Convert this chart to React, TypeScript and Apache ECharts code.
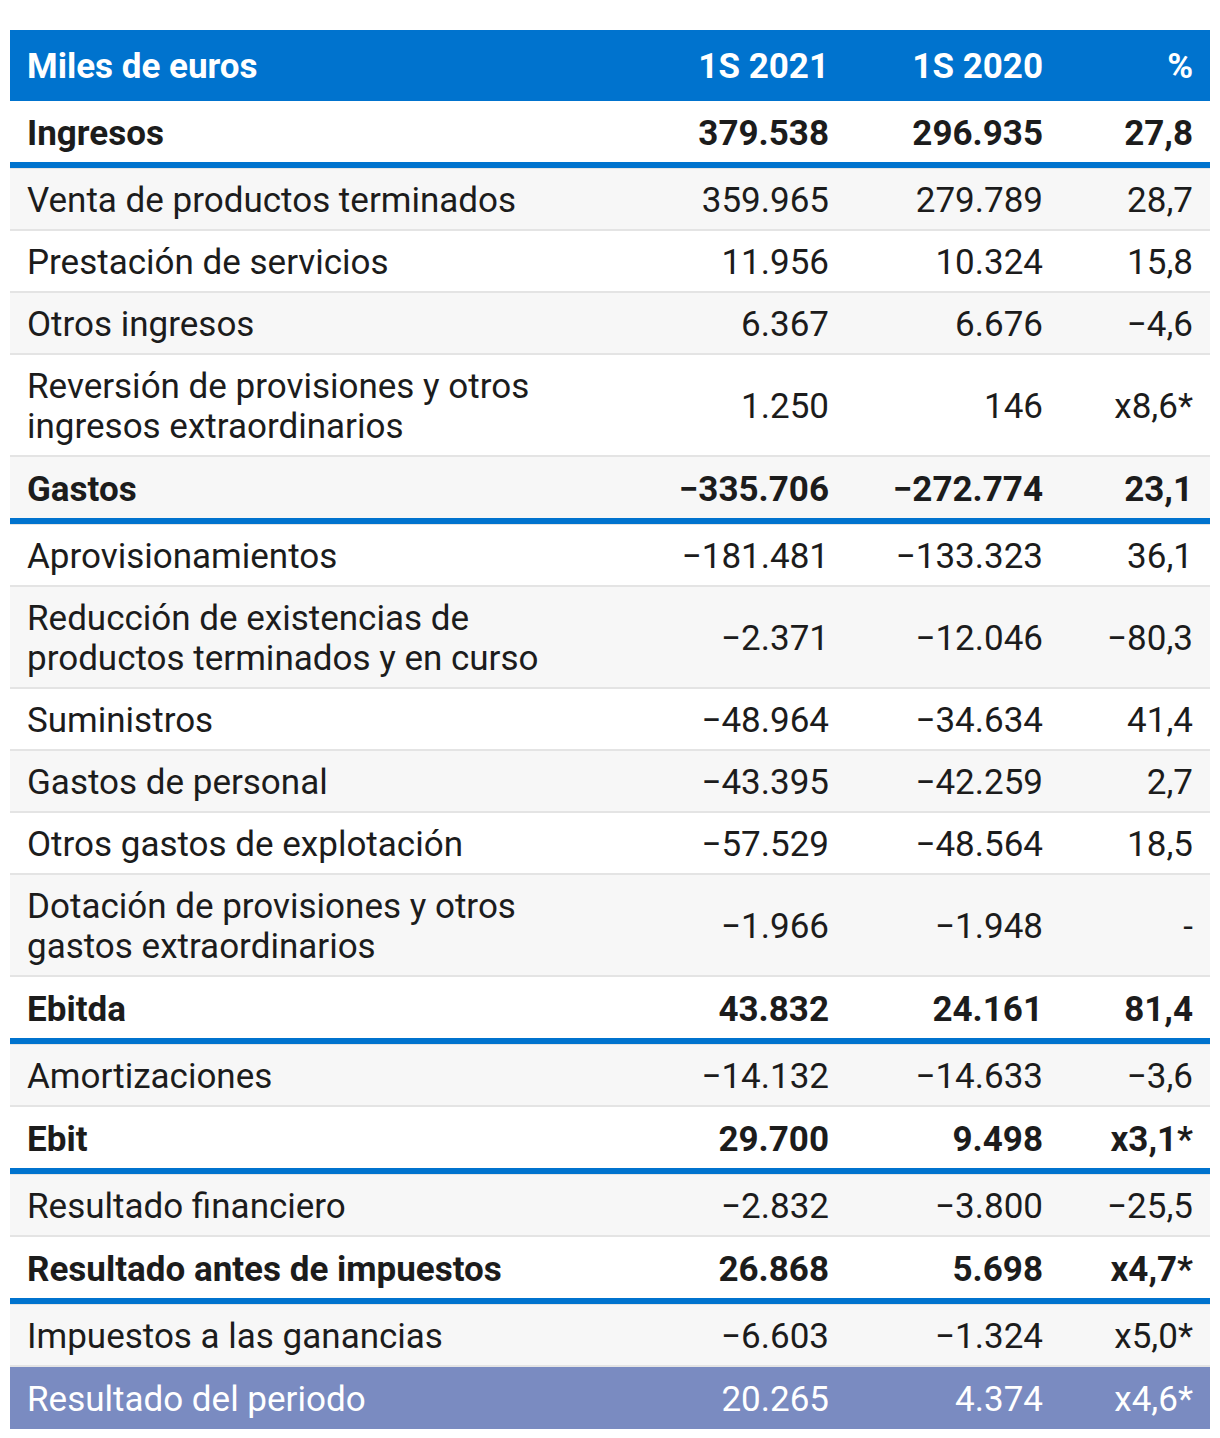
import React, { useEffect, useRef } from "react";
import * as echarts from "echarts";

const headers = ["Miles de euros", "1S 2021", "1S 2020", "%"];

const concepts = [
  "Ingresos",
  "Venta de productos terminados",
  "Prestación de servicios",
  "Otros ingresos",
  "Reversión de provisiones y otros\ningresos extraordinarios",
  "Gastos",
  "Aprovisionamientos",
  "Reducción de existencias de\nproductos terminados y en curso",
  "Suministros",
  "Gastos de personal",
  "Otros gastos de explotación",
  "Dotación de provisiones y otros\ngastos extraordinarios",
  "Ebitda",
  "Amortizaciones",
  "Ebit",
  "Resultado financiero",
  "Resultado antes de impuestos",
  "Impuestos a las ganancias",
  "Resultado del periodo",
];

const values2021 = [
  379538, 359965, 11956, 6367, 1250, -335706, -181481, -2371, -48964, -43395,
  -57529, -1966, 43832, -14132, 29700, -2832, 26868, -6603, 20265,
];

const values2020 = [
  296935, 279789, 10324, 6676, 146, -272774, -133323, -12046, -34634, -42259,
  -48564, -1948, 24161, -14633, 9498, -3800, 5698, -1324, 4374,
];

const changes: (number | string)[] = [
  27.8, 28.7, 15.8, -4.6, "x8,6*", 23.1, 36.1, -80.3, 41.4, 2.7, 18.5, "-",
  81.4, -3.6, "x3,1*", -25.5, "x4,7*", "x5,0*", "x4,6*",
];

const totalRows = ["Ingresos", "Gastos", "Ebitda", "Ebit", "Resultado antes de impuestos"];
const finalRow = "Resultado del periodo";

function fmtInt(n: number): string {
  const s = Math.abs(n).toString().replace(/\B(?=(\d{3})+(?!\d))/g, ".");
  return (n < 0 ? "\u2212" : "") + s;
}
function fmtPct(v: number | string): string {
  if (typeof v === "string") return v;
  const s = Math.abs(v).toFixed(1).replace(".", ",");
  return (v < 0 ? "\u2212" : "") + s;
}

const FONT = "Roboto";
const FS = 35;
const LEFT = 10;
const RIGHT = 1210;
const WIDTH = RIGHT - LEFT;
const HEADER_TOP = 30;
const HEADER_H = 71;
const LABEL_X = 27;
const COL_X = [829, 1043, 1193];
const BLUE = "#0073CE";
const STRIPE = "#f7f7f7";
const SEP = "#e4e4e4";
const FINAL_BG = "#7a8bc1";
const TEXT = "#1c1c1c";

export default function App() {
  const ref = useRef<HTMLDivElement>(null);

  useEffect(() => {
    if (!ref.current) return;
    const chart = echarts.init(ref.current, null, { renderer: "svg" });
    const els: any[] = [];

    // header
    els.push({
      type: "rect",
      shape: { x: LEFT, y: HEADER_TOP, width: WIDTH, height: HEADER_H },
      style: { fill: BLUE },
      silent: true,
    });
    const hy = HEADER_TOP + HEADER_H / 2 + 1;
    headers.forEach((h, i) => {
      els.push({
        type: "text",
        x: i === 0 ? LABEL_X : COL_X[i - 1],
        y: hy,
        style: {
          text: h,
          fill: "#ffffff",
          fontFamily: FONT,
          fontSize: FS,
          fontWeight: "bold",
          align: i === 0 ? "left" : "right",
          verticalAlign: "middle",
        },
        silent: true,
      });
    });

    let y = HEADER_TOP + HEADER_H;
    concepts.forEach((c, i) => {
      const isTotal = totalRows.includes(c);
      const isFinal = c === finalRow;
      const twoLines = c.includes("\n");
      const pitch = twoLines ? 102 : isTotal ? 68 : 62;
      const bgH = isTotal ? 61 : isFinal ? 62 : pitch - 2;
      const bg = isFinal ? FINAL_BG : i % 2 === 1 ? STRIPE : "#ffffff";
      els.push({
        type: "rect",
        shape: { x: LEFT, y: y, width: WIDTH, height: bgH },
        style: { fill: bg },
        silent: true,
      });
      if (isTotal) {
        els.push({
          type: "rect",
          shape: { x: LEFT, y: y + 61, width: WIDTH, height: 6 },
          style: { fill: BLUE },
          silent: true,
        });
        els.push({
          type: "rect",
          shape: { x: LEFT, y: y + 67, width: WIDTH, height: 1 },
          style: { fill: SEP },
          silent: true,
        });
      } else if (!isFinal) {
        els.push({
          type: "rect",
          shape: { x: LEFT, y: y + bgH, width: WIDTH, height: 2 },
          style: { fill: SEP },
          silent: true,
        });
      }
      const cy = y + (isTotal ? 31 : bgH / 2) + 1;
      const fill = isFinal ? "#ffffff" : TEXT;
      const weight = isTotal ? "bold" : "normal";
      const cells = [c, fmtInt(values2021[i]), fmtInt(values2020[i]), fmtPct(changes[i])];
      cells.forEach((t, j) => {
        els.push({
          type: "text",
          x: j === 0 ? LABEL_X : COL_X[j - 1],
          y: cy,
          style: {
            text: t,
            fill,
            fontFamily: FONT,
            fontSize: FS,
            fontWeight: weight,
            lineHeight: 40,
            align: j === 0 ? "left" : "right",
            verticalAlign: "middle",
          },
          silent: true,
        });
      });
      y += pitch;
    });

    chart.setOption({
      animation: false,
      graphic: { elements: els },
    });
    return () => chart.dispose();
  }, []);

  return (
    <div
      ref={ref}
      style={{ position: "absolute", left: 0, top: 0, width: 1220, height: 1438, background: "#ffffff" }}
    />
  );
}
